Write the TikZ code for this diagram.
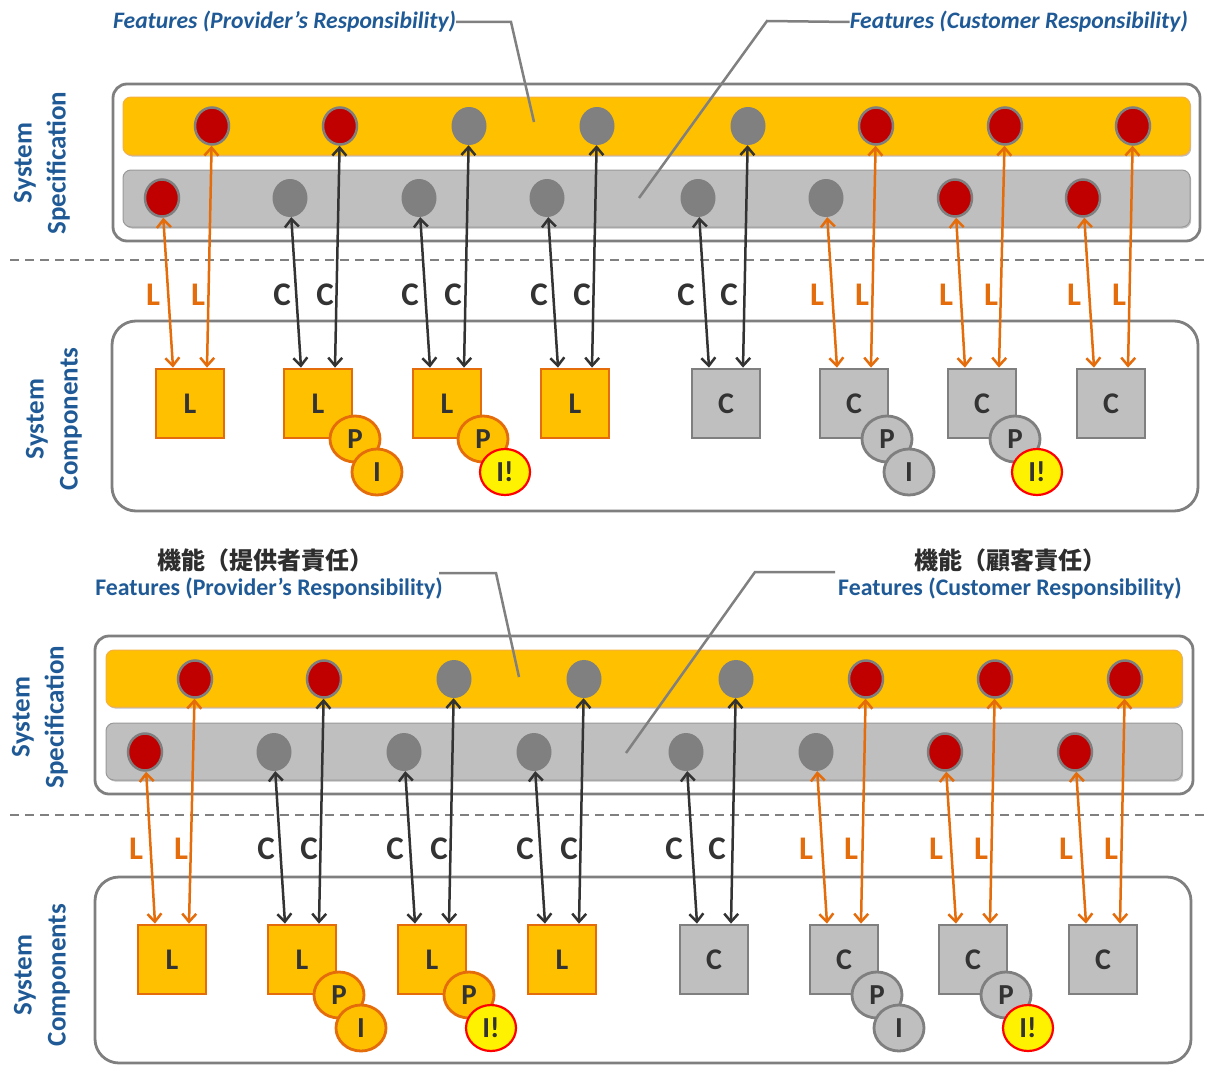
\documentclass[tikz,border=0pt]{standalone}
\usepackage{fontspec}
\setmainfont{Carlito}
\newfontfamily\jpfont{Noto Sans CJK JP}
\usetikzlibrary{arrows.meta,shadows,shapes.geometric}
\definecolor{gold}{HTML}{FFC000}
\definecolor{goldedge}{HTML}{F5B040}
\definecolor{org}{HTML}{E46C0A}
\definecolor{dred}{HTML}{C00000}
\definecolor{midgray}{HTML}{808080}
\definecolor{ltgray}{HTML}{BFBFBF}
\definecolor{edgegray}{HTML}{7F7F7F}
\definecolor{navy}{HTML}{1F5A96}
\definecolor{ink}{HTML}{333333}
\newcommand\fs[1]{\fontsize{#1}{#1}\selectfont}
\tikzset{
  outerbox/.style={draw=edgegray, line width=2.8pt, fill=white, rounded corners=14pt},
  goldbar/.style={draw=goldedge, line width=1pt, fill=gold, rounded corners=8pt,
     drop shadow={shadow xshift=1.2pt, shadow yshift=-1.5pt, opacity=0.25, fill=black}},
  graybar/.style={draw=ltgray!80!black, line width=1pt, fill=ltgray, rounded corners=8pt,
     drop shadow={shadow xshift=1.2pt, shadow yshift=-1.5pt, opacity=0.25, fill=black}},
  featr/.style={ellipse, minimum width=34pt, minimum height=37pt, inner sep=0pt, fill=dred, draw=edgegray, line width=2.5pt},
  featg/.style={ellipse, minimum width=35pt, minimum height=38pt, inner sep=0pt, fill=midgray},
  boxL/.style={rectangle, minimum width=68pt, minimum height=69pt, inner sep=0pt, fill=gold, draw=org, line width=2.8pt, font=\bfseries\fs{30}, text=ink},
  boxC/.style={rectangle, minimum width=68pt, minimum height=69pt, inner sep=0pt, fill=ltgray, draw=edgegray, line width=2.8pt, font=\bfseries\fs{30}, text=ink},
  subL/.style={ellipse, minimum width=50pt, minimum height=46pt, inner sep=0pt, fill=gold, draw=org, line width=2.8pt, font=\bfseries\fs{29}, text=ink},
  subC/.style={ellipse, minimum width=50pt, minimum height=46pt, inner sep=0pt, fill=ltgray, draw=edgegray, line width=2.8pt, font=\bfseries\fs{29}, text=ink},
  subY/.style={ellipse, minimum width=50pt, minimum height=46pt, inner sep=0pt, fill=yellow, draw=red, line width=2.2pt, font=\bfseries\fs{29}, text=ink},
  arrL/.style={draw=org, line width=2.5pt, {Straight Barb[length=8pt,width=14pt]}-{Straight Barb[length=8pt,width=14pt]}},
  arrC/.style={draw=ink, line width=2.5pt, {Straight Barb[length=8pt,width=14pt]}-{Straight Barb[length=8pt,width=14pt]}},
  labL/.style={font=\bfseries\fs{33}, text=org, inner sep=0pt},
  labC/.style={font=\bfseries\fs{33}, text=ink, inner sep=0pt},
  side/.style={rotate=90, align=center, font=\bfseries\fontsize{27}{34}\selectfont, text=navy},
  ttl/.style={font=\bfseries\itshape\fs{23.6}, text=navy, inner sep=0pt},
  ttlb/.style={font=\bfseries\fs{23.8}, text=navy, inner sep=0pt},
  jp/.style={font=\jpfont\bfseries\fs{24}, text=ink!90!black, inner sep=0pt},
  leader/.style={draw=midgray, line width=2.5pt},
  sep/.style={draw=midgray, line width=2.8pt, dash pattern=on 9pt off 6pt},
}
\begin{document}
\begin{tikzpicture}[x=1pt,y=-1pt]
\useasboundingbox (0,0) rectangle (1210,1065);
% ================= TOP PANEL =================
\node[ttl, anchor=west] (tpa) at (113,22) {Features (Provider’s Responsibility)};
\node[ttl, anchor=east] (tca) at (1188,22) {Features (Customer Responsibility)};
\node[side] (ssa) at (42,163) {System\\Specification};
\node[side] (sca) at (54,419) {System\\Components};
\draw[outerbox] (113,84) rectangle (1200,241);
\draw[goldbar] (123,97) rectangle (1190,155);
\draw[graybar] (123,170) rectangle (1190,227);
\coordinate (lea) at (511,22);
\coordinate (lpa) at (534,122);
\coordinate (rea) at (767,21);
\coordinate (rpa) at (639,198);
\draw[leader] (tpa.east) -- (lea) -- (lpa);
\draw[leader] (tca.west) -- (rea) -- (rpa);
\foreach \i/\x/\c in {1/212/r,2/340/r,3/469/g,4/597/g,5/748/g,6/876/r,7/1005/r,8/1133/r}
  \node[feat\c] (ta\i) at (\x,126) {};
\foreach \i/\x/\c in {1/162/r,2/290/g,3/419/g,4/547/g,5/698/g,6/826/g,7/955/r,8/1083/r}
  \node[feat\c] (sa\i) at (\x,198) {};
\draw[sep] (10,260) -- (1210,260);
\draw[outerbox, rounded corners=24pt] (112,321) rectangle (1198,511);
\foreach \i/\x/\k in {1/190/L,2/318/L,3/447/L,4/575/L,5/726/C,6/854/C,7/982/C,8/1111/C}
  \node[box\k] (ba\i) at (\x,403.5) {\k};
\node[subL] (pa2) at (355,439) {P};
\node[subL] (ia2) at (377,472) {I};
\node[subL] (pa3) at (483,439) {P};
\node[subY] (ia3) at (505,472) {I!};
\node[subC] (pa6) at (887,439) {P};
\node[subC] (ia6) at (909,472) {I};
\node[subC] (pa7) at (1015,439) {P};
\node[subY] (ia7) at (1037,472) {I!};
\foreach \i/\k in {1/L,2/C,3/C,4/C,5/C,6/L,7/L,8/L} {
  \draw[arr\k] (sa\i) -- ([xshift=-17pt]ba\i.north);
  \draw[arr\k] (ta\i) -- ([xshift=17pt]ba\i.north);
}
\foreach \x/\k in {153/L,198/L,282/C,325/C,410/C,453/C,539/C,582/C,686/C,729/C,817/L,862/L,946/L,991/L,1074/L,1119/L}
  \node[lab\k] at (\x,295) {\k};
% ================= BOTTOM PANEL =================
\node[jp] (jpb) at (265,560) {機能（提供者責任）};
\node[ttlb] (tpb) at (269,589) {Features (Provider’s Responsibility)};
\node[jp] (jcb) at (1010,560) {機能（顧客責任）};
\node[ttlb] (tcb) at (1010,589) {Features (Customer Responsibility)};
\node[side] (ssb) at (40,717) {System\\Specification};
\node[side] (scb) at (42,975) {System\\Components};
\draw[outerbox] (95,636) rectangle (1193,794);
\draw[goldbar] (106,650) rectangle (1182,707);
\draw[graybar] (106,723) rectangle (1182,780);
\coordinate (lsb) at (439,573);
\coordinate (leb) at (496,573);
\coordinate (lpb) at (519,677);
\coordinate (rsb) at (835,572);
\coordinate (reb) at (755,572);
\coordinate (rpb) at (626,753);
\draw[leader] (lsb) -- (leb) -- (lpb);
\draw[leader] (rsb) -- (reb) -- (rpb);
\foreach \i/\x/\c in {1/195/r,2/324/r,3/454/g,4/584/g,5/736/g,6/866/r,7/995/r,8/1125/r}
  \node[feat\c] (tb\i) at (\x,679) {};
\foreach \i/\x/\c in {1/145/r,2/274/g,3/404/g,4/534/g,5/686/g,6/816/g,7/945/r,8/1075/r}
  \node[feat\c] (sb\i) at (\x,752) {};
\draw[sep] (10,815) -- (1210,815);
\draw[outerbox, rounded corners=24pt] (95,877) rectangle (1191,1063);
\foreach \i/\x/\k in {1/172/L,2/302/L,3/432/L,4/562/L,5/714/C,6/844/C,7/973/C,8/1103/C}
  \node[box\k] (bb\i) at (\x,959.5) {\k};
\node[subL] (pb2) at (339,995) {P};
\node[subL] (ib2) at (361,1028) {I};
\node[subL] (pb3) at (469,995) {P};
\node[subY] (ib3) at (491,1028) {I!};
\node[subC] (pb6) at (877,995) {P};
\node[subC] (ib6) at (899,1028) {I};
\node[subC] (pb7) at (1006,995) {P};
\node[subY] (ib7) at (1028,1028) {I!};
\foreach \i/\k in {1/L,2/C,3/C,4/C,5/C,6/L,7/L,8/L} {
  \draw[arr\k] (sb\i) -- ([xshift=-17pt]bb\i.north);
  \draw[arr\k] (tb\i) -- ([xshift=17pt]bb\i.north);
}
\foreach \x/\k in {136/L,181/L,266/C,309/C,395/C,439/C,525/C,569/C,674/C,717/C,806/L,851/L,936/L,981/L,1066/L,1111/L}
  \node[lab\k] at (\x,849) {\k};
\end{tikzpicture}
\end{document}
